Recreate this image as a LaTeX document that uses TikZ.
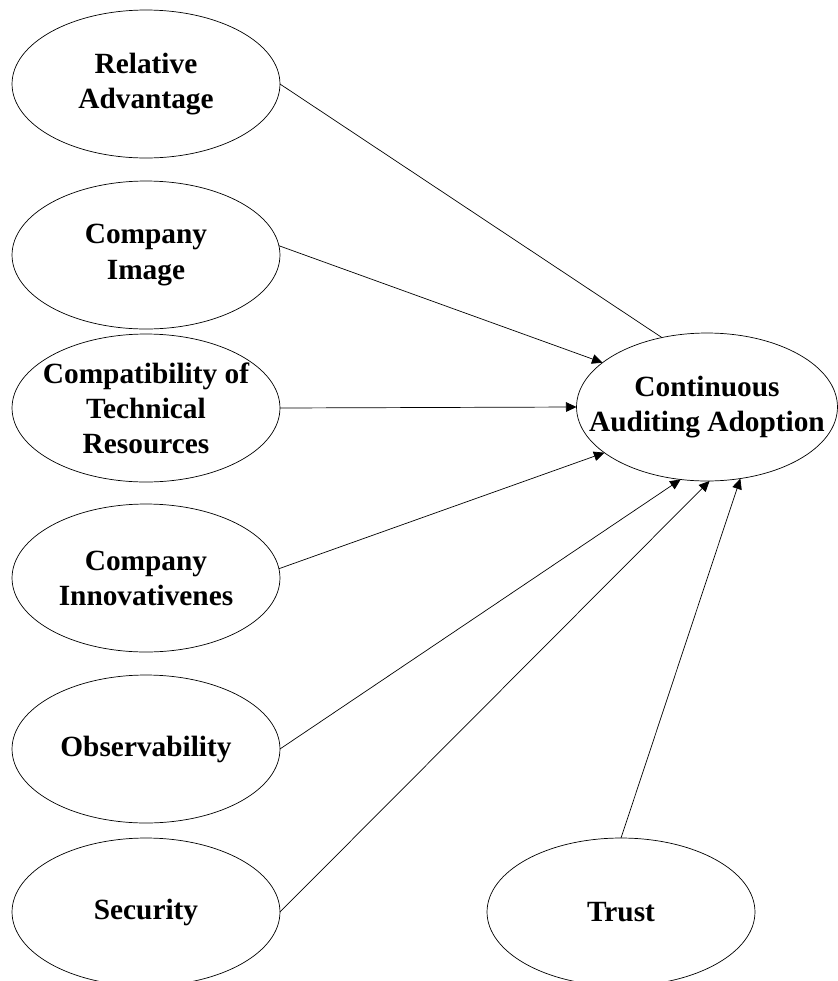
\documentclass[tikz,border=0pt]{standalone}
\usepackage{fontspec}
\setmainfont{Liberation Serif}
\usetikzlibrary{shapes.geometric,arrows.meta}

\begin{document}
\begin{tikzpicture}
  [x=0.02cm,y=-0.02cm,>={Triangle[length=6pt,width=5.5pt]},
   every node/.style={ellipse,draw,thin,align=center,inner sep=-15pt,outer sep=0pt,
     minimum width=5.36cm,minimum height=2.96cm,
     font=\fontsize{16.7}{20}\selectfont\bfseries}]
  \useasboundingbox (0,0) rectangle (838,981);
  \node (ra) at (146,84) {Relative\\Advantage};
  \node (ci) at (146,255) {Company\\Image};
  \node (ct) at (146,408) {Compatibility of\\Technical\\Resources};
  \node (cn) at (146,578) {Company\\Innovativenes};
  \node (ob) at (146,749) {Observability};
  \node (se) at (146,912) {Security};
  \node (tr) at (621,912) {Trust};
  \node[minimum width=5.22cm] (cad) at (707,407) {Continuous\\Auditing Adoption};
  \draw[thin] (ra.east) -- (cad.123);
  \foreach \from/\to in {ci.4/cad.157,ct.east/cad.west,cn.4/cad.204,ob.east/cad.250,se.east/cad.272,tr.north/cad.295}
    \draw[thin,->] (\from) -- (\to);

\end{tikzpicture}
\end{document}
